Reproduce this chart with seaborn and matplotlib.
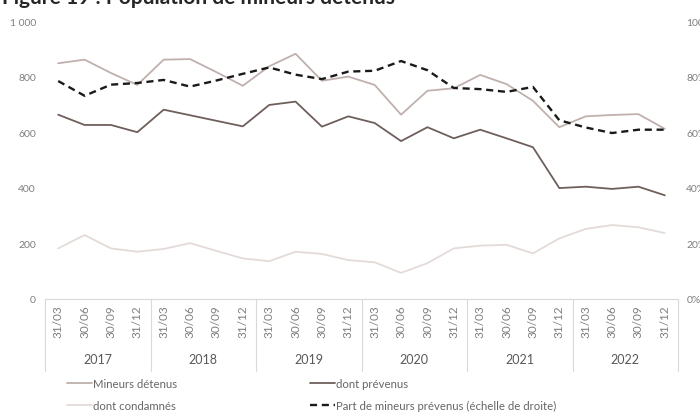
import matplotlib
matplotlib.use("Agg")
import matplotlib.pyplot as plt
import matplotlib.transforms as mtransforms
from matplotlib.lines import Line2D
import seaborn as sns
import pandas as pd
import numpy as np

quarters = ["31/03", "30/06", "30/09", "31/12"] * 6
years = ["2017", "2018", "2019", "2020", "2021", "2022"]
detenus = [848, 861, 813, 770, 861, 863, 816, 767, 837, 882, 785, 800,
           770, 663, 749, 758, 806, 773, 713, 618, 657, 662, 665, 612]
prevenus = [663, 626, 626, 600, 681, 661, 641, 621, 698, 710, 620, 657,
            633, 568, 618, 578, 609, 578, 546, 399, 404, 396, 404, 373]
condamnes = [182, 230, 182, 170, 180, 201, 173, 146, 136, 170, 162, 140,
             132, 94, 129, 182, 192, 195, 164, 218, 252, 266, 258, 237]
part = [78.4, 73.1, 77.1, 77.7, 78.8, 76.4, 78.6, 81.0, 83.3, 80.7, 79.1, 81.8,
        82.1, 85.6, 82.3, 75.9, 75.5, 74.5, 76.3, 64.3, 61.7, 59.7, 60.9, 60.9]

sns.set_theme(style="white")
plt.rcParams["font.family"] = ["Lato", "DejaVu Sans"]

c_det = "#BFB1AD"
c_prev = "#6E5F5B"
c_cond = "#E4DBD8"
c_part = "#1A1A1A"
c_txt = "#7F7F7F"

idx = np.arange(len(quarters))
df = pd.DataFrame({"i": idx, "det": detenus, "prev": prevenus,
                   "cond": condamnes, "part": part})

fig = plt.figure(figsize=(7, 4.14), dpi=100)
ax = fig.add_axes([45 / 700, 1 - 300 / 414, (678 - 45) / 700, 278 / 414])

sns.lineplot(data=df, x="i", y="cond", ax=ax, color=c_cond, lw=1.3)
sns.lineplot(data=df, x="i", y="det", ax=ax, color=c_det, lw=1.3)
sns.lineplot(data=df, x="i", y="prev", ax=ax, color=c_prev, lw=1.3)

ax2 = ax.twinx()
sns.lineplot(data=df, x="i", y="part", ax=ax2, color=c_part, lw=1.7,
             dashes=False, linestyle=(0, (3, 2)))

ax.set_xlim(-0.5, len(quarters) - 0.5)
ax.set_ylim(0, 1000)
ax2.set_ylim(0, 100)
ax.set_yticks([0, 200, 400, 600, 800, 1000])
ax.set_yticklabels(["0", "200", "400", "600", "800", "1 000"])
ax2.set_yticks([0, 20, 40, 60, 80, 100])
ax2.set_yticklabels([f"{v}%" for v in [0, 20, 40, 60, 80, 100]])
ax.set_xticks(idx)
ax.set_xticklabels(quarters, rotation=90)
ax.set_xlabel("")
ax.set_ylabel("")
ax2.set_ylabel("")

ax.tick_params(axis="y", length=0, pad=6.5, labelsize=7.5, labelcolor=c_txt)
ax2.tick_params(axis="y", length=0, pad=6, labelsize=7.5, labelcolor=c_txt)
ax.tick_params(axis="x", length=0, pad=4, labelsize=8.5, labelcolor=c_txt)

for a in (ax, ax2):
    for s in ["top", "left", "right", "bottom"]:
        a.spines[s].set_visible(False)
ax.spines["bottom"].set_visible(True)
ax.spines["bottom"].set_color("#D9D9D9")
ax.spines["bottom"].set_linewidth(0.8)
ax.grid(False)
ax2.grid(False)

trans = mtransforms.blended_transform_factory(ax.transData, ax.transAxes)
sep_h = 72 / 278
for k in range(len(years) + 1):
    xb = -0.5 + 4 * k
    ax.add_line(Line2D([xb, xb], [0, -sep_h], transform=trans, color="#D9D9D9",
                       lw=0.8, clip_on=False))
for k, yr in enumerate(years):
    ax.text(4 * k + 1.5, -60 / 278, yr, transform=trans, ha="center", va="center",
            fontsize=9, color="#595959")

fig.text(2 / 700, 1 - 3.5 / 414, "Figure 19 : Population de mineurs détenus",
         fontsize=15, fontweight="bold", color="#262626", va="baseline", ha="left")

handles = [
    Line2D([], [], color=c_det, lw=1.3),
    Line2D([], [], color=c_cond, lw=1.3),
    Line2D([], [], color=c_prev, lw=1.3),
    Line2D([], [], color=c_part, lw=1.7, linestyle=(0, (3, 2))),
]
labels = ["Mineurs détenus", "dont condamnés", "dont prévenus",
          "Part de mineurs prévenus (échelle de droite)"]
fig.legend(handles, labels, ncol=2, loc="upper left",
           bbox_to_anchor=(67 / 700, 1 - 379 / 414), frameon=False,
           fontsize=8.2, handlelength=2.2, handletextpad=0.12,
           columnspacing=11.6, labelspacing=1.0, borderpad=0, borderaxespad=0,
           labelcolor="#666666")

fig.savefig("out.png", dpi=100)
